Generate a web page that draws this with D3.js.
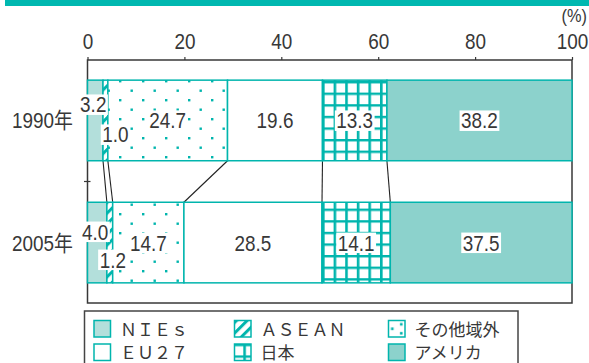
<!DOCTYPE html>
<html><head><meta charset="utf-8">
<script src="https://cdn.jsdelivr.net/npm/d3@7"></script>
<style>
html,body{margin:0;padding:0;background:#fff;}
svg{display:block;}
</style></head>
<body>
<svg id="chart" width="589" height="363"></svg>
<script>
// ---- data ----
const years = ["1990年", "2005年"];
const regions = ["NIEs", "ASEAN", "その他域外", "EU27", "日本", "アメリカ"];
const legendLabels = ["ＮＩＥｓ", "ＡＳＥＡＮ", "その他域外", "ＥＵ２７", "日本", "アメリカ"];
const values1990 = [3.2, 1.0, 24.7, 19.6, 13.3, 38.2];
const values2005 = [4.0, 1.2, 14.7, 28.5, 14.1, 37.5];
const xTicks = [0, 20, 40, 60, 80, 100];
const unitLabel = "(%)";

// ---- style / layout ----
const TEAL = "#00b5ad";
const INK = "#383838";
const FONT = "'Liberation Sans','Noto Sans CJK JP',sans-serif";
const NARROW = 0.86;
const fills = {
  "NIEs": "#b3dfdb",
  "ASEAN": "url(#hatch)",
  "その他域外": "url(#dots)",
  "EU27": "#ffffff",
  "日本": "url(#grid)",
  "アメリカ": "#8cd2cc"
};
const legendFills = Object.assign({}, fills, {"その他域外": "url(#dotsLegend)"});
// label nudges for narrow segments (year index -> region index -> [dx, dy])
const labelNudge = [
  {0: [-2, -16], 1: [10, 14]},
  {0: [-2, -11], 1: [3, 17]}
];

const svg = d3.select("#chart");
const defs = svg.append("defs");

// hatch pattern
const ph = defs.append("pattern").attr("id", "hatch").attr("patternUnits", "userSpaceOnUse")
  .attr("width", 7.5).attr("height", 7.5).attr("patternTransform", "rotate(45)");
ph.append("rect").attr("width", 7.5).attr("height", 7.5).attr("fill", "#fff");
ph.append("rect").attr("x", 0).attr("width", 3).attr("height", 7.5).attr("fill", TEAL);

// dots pattern
const pd = defs.append("pattern").attr("id", "dots").attr("patternUnits", "userSpaceOnUse")
  .attr("width", 23).attr("height", 19);
pd.append("rect").attr("width", 23).attr("height", 19).attr("fill", "#fff");
pd.append("rect").attr("x", 4).attr("y", 4).attr("width", 2.4).attr("height", 2.4).attr("fill", TEAL);
pd.append("rect").attr("x", 15.5).attr("y", 13.5).attr("width", 2.4).attr("height", 2.4).attr("fill", TEAL);

// legend dots pattern
const pdl = defs.append("pattern").attr("id", "dotsLegend").attr("patternUnits", "objectBoundingBox")
  .attr("width", 1).attr("height", 1);
pdl.append("rect").attr("width", 17).attr("height", 17).attr("fill", "#fff");
[[2.5, 7], [11.5, 2.5], [11.5, 11.5]].forEach(p =>
  pdl.append("rect").attr("x", p[0]).attr("y", p[1]).attr("width", 2.6).attr("height", 2.6).attr("fill", TEAL));

// grid pattern
const pg = defs.append("pattern").attr("id", "grid").attr("patternUnits", "userSpaceOnUse")
  .attr("width", 11.6).attr("height", 11.6).attr("x", 322).attr("y", 81);
pg.append("rect").attr("width", 11.6).attr("height", 11.6).attr("fill", "#fff");
pg.append("rect").attr("width", 2.6).attr("height", 11.6).attr("fill", TEAL);
pg.append("rect").attr("width", 11.6).attr("height", 2.4).attr("fill", TEAL);

// title band (cut off at top)
svg.append("rect").attr("x", 5).attr("y", 0).attr("width", 584).attr("height", 6).attr("fill", "#00b8b0");

// scales
const pLeft = 87.5, pRight = 572, pTop = 60, pBottom = 303;
const x = d3.scaleLinear().domain([0, 100]).range([pLeft, pRight]);
const y = d3.scaleBand().domain(years).range([pTop, pBottom]).paddingInner(0.34).paddingOuter(0.165);

// stacked data
const series = [values1990, values2005];
const stacks = series.map((vals, yi) => {
  let c = 0;
  return vals.map((v, i) => { const s = c; c += v; return {year: years[yi], region: regions[i], v, x0: s, x1: c, i, yi}; });
});

// narrow text helper
function narrowText(parent, tx, ty, str, size, anchor) {
  return parent.append("text")
    .attr("transform", `translate(${tx},${ty}) scale(${NARROW},1)`)
    .attr("text-anchor", anchor || "middle")
    .attr("font-family", FONT).attr("font-size", size).attr("fill", INK).text(str);
}

// frame
svg.append("rect").attr("x", pLeft).attr("y", pTop).attr("width", pRight - pLeft).attr("height", pBottom - pTop)
  .attr("fill", "none").attr("stroke", INK).attr("stroke-width", 1.5);

// top axis
const ax = svg.append("g").attr("transform", `translate(0,${pTop})`)
  .call(d3.axisTop(x).tickValues(xTicks).tickSize(3).tickPadding(8).tickFormat(d3.format("d")));
ax.select(".domain").remove();
ax.selectAll(".tick line").attr("stroke", INK).attr("stroke-width", 1.2);
ax.selectAll(".tick text").attr("font-family", FONT).attr("font-size", 22).attr("fill", INK)
  .attr("transform", `scale(${NARROW},1)`);

narrowText(svg, 587, 22, unitLabel, 19, "end");

// y tick between categories
const mid = (y(years[0]) + y.bandwidth() + y(years[1])) / 2;
svg.append("line").attr("x1", pLeft - 3.5).attr("x2", pLeft + 3).attr("y1", mid).attr("y2", mid)
  .attr("stroke", INK).attr("stroke-width", 1.2);

// connector lines
const c0 = stacks[0], c1 = stacks[1];
for (let i = 0; i < regions.length - 1; i++) {
  svg.append("line")
    .attr("x1", x(c0[i].x1)).attr("y1", y(years[0]) + y.bandwidth())
    .attr("x2", x(c1[i].x1)).attr("y2", y(years[1]))
    .attr("stroke", "#222").attr("stroke-width", 1.1);
}

// bars
stacks.forEach(st => {
  const g = svg.append("g");
  g.selectAll("rect").data(st).join("rect")
    .attr("x", d => x(d.x0)).attr("y", d => y(d.year))
    .attr("width", d => x(d.x1) - x(d.x0)).attr("height", y.bandwidth())
    .attr("fill", d => fills[d.region]).attr("stroke", TEAL).attr("stroke-width", 1.5);
});

// y labels
years.forEach(yr => narrowText(svg, 73, y(yr) + y.bandwidth() / 2 + 8, yr, 22, "end"));

// value labels
stacks.forEach((st, yi) => {
  st.forEach(d => {
    const nud = labelNudge[yi][d.i] || [0, 0];
    const cx = (x(d.x0) + x(d.x1)) / 2 + nud[0];
    const cy = y(d.year) + y.bandwidth() / 2 + nud[1];
    const g = svg.append("g");
    const bg = g.append("rect").attr("fill", "#fff");
    const t = narrowText(g, cx, cy + 8, d.v.toFixed(1), 22, "middle");
    const w = t.node().getBBox().width * NARROW;
    bg.attr("x", cx - w / 2 - 1.5).attr("y", cy - 10).attr("width", w + 3).attr("height", 20.5);
  });
});

// legend
svg.append("rect").attr("x", 84.5).attr("y", 311).attr("width", 433.5).attr("height", 70)
  .attr("fill", "none").attr("stroke", "#444").attr("stroke-width", 1.5);
const colX = [94, 234.5, 388.5];
const rowY = [320.5, 344];
const lg = svg.append("g").selectAll("g").data(regions).join("g")
  .attr("transform", (d, i) => `translate(${colX[i % 3]},${rowY[Math.floor(i / 3)]})`);
lg.append("rect").attr("width", 16.5).attr("height", 16.5)
  .attr("fill", d => legendFills[d]).attr("stroke", TEAL).attr("stroke-width", 1.5);
lg.append("text").attr("x", 26).attr("y", 15).attr("font-family", "'Noto Sans CJK JP',sans-serif")
  .attr("font-size", 17).attr("fill", INK).text((d, i) => legendLabels[i]);
</script>
</body></html>
